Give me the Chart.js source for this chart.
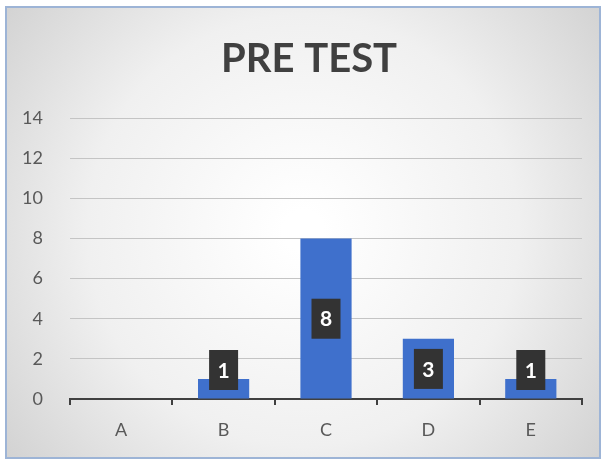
<!DOCTYPE html>
<html>
<head>
<meta charset="utf-8">
<script src="https://cdn.jsdelivr.net/npm/chart.js@4"></script>
<style>
  html, body { margin: 0; padding: 0; background: #fff; }
  #wrap { width: 606px; height: 461px; }
</style>
</head>
<body>
<div id="wrap"><canvas id="chart" width="606" height="461"></canvas></div>
<script>
const categories = ['A', 'B', 'C', 'D', 'E'];
const counts = [0, 1, 8, 3, 1];
const yTicks = [0, 2, 4, 6, 8, 10, 12, 14];
const chartTitle = 'PRE TEST';

// gradient background + light blue frame + title
const backdrop = {
    id: 'backdrop',
    beforeDraw(chart) {
        const ctx = chart.ctx;
        const w = chart.width, h = chart.height;
        ctx.save();
        const g = ctx.createRadialGradient(w / 2, h / 2, 20, w / 2, h / 2, w * 0.62);
        g.addColorStop(0, '#ffffff');
        g.addColorStop(0.55, '#f0f0f0');
        g.addColorStop(1, '#d2d2d2');
        ctx.fillStyle = g;
        ctx.fillRect(6, 7, 594, 451);
        ctx.strokeStyle = '#9db4d6';
        ctx.lineWidth = 2;
        ctx.strokeRect(6, 7, 594, 451);
        ctx.fillStyle = '#404040';
        ctx.font = 'bold 40px Lato, "Open Sans", sans-serif';
        ctx.textAlign = 'center';
        ctx.textBaseline = 'alphabetic';
        ctx.fillText(chartTitle, w / 2 + 6, 72);
        ctx.restore();
    }
};

// dark boxed value labels
const valueBoxes = {
    id: 'valueBoxes',
    afterDatasetsDraw(chart) {
        const ctx = chart.ctx;
        const meta = chart.getDatasetMeta(0);
        const yZero = chart.scales.y.getPixelForValue(0);
        ctx.save();
        meta.data.forEach((bar, i) => {
            const v = counts[i];
            if (!v) return;
            const boxW = 29, boxH = 40;
            let cy = (bar.y + yZero) / 2;
            if (cy + boxH / 2 > yZero - 9) cy = yZero - 9 - boxH / 2;
            ctx.fillStyle = '#333333';
            ctx.fillRect(bar.x - boxW / 2, cy - boxH / 2, boxW, boxH);
            ctx.fillStyle = '#ffffff';
            ctx.font = 'bold 21px Lato, "Open Sans", sans-serif';
            ctx.textAlign = 'center';
            ctx.textBaseline = 'middle';
            ctx.fillText(String(v), bar.x, cy + 1);
        });
        ctx.restore();
    }
};

new Chart(document.getElementById('chart'), {
    type: 'bar',
    data: {
        labels: categories,
        datasets: [{
            data: counts,
            backgroundColor: '#3f70cc',
            categoryPercentage: 1,
            barPercentage: 0.5
        }]
    },
    options: {
        responsive: false,
        animation: false,
        layout: { padding: { top: 118, right: 24, left: 0, bottom: 0 } },
        plugins: {
            legend: { display: false },
            title: { display: false },
            tooltip: { enabled: false }
        },
        scales: {
            x: {
                offset: true,
                grid: {
                    offset: true,
                    drawOnChartArea: false,
                    drawTicks: true,
                    tickLength: 6,
                    color: '#404040',
                    lineWidth: 2
                },
                border: { display: true, color: '#404040', width: 2 },
                ticks: { color: '#595959', font: { size: 18, family: 'Lato, "Open Sans", sans-serif' }, padding: 14 },
                afterFit(scale) { scale.height = 62; }
            },
            y: {
                min: 0,
                max: 14,
                afterBuildTicks(scale) { scale.ticks = yTicks.map(v => ({ value: v })); },
                grid: { color: '#c4c4c4', lineWidth: 1, drawTicks: false },
                border: { display: false },
                ticks: { color: '#595959', font: { size: 18, family: 'Lato, "Open Sans", sans-serif' }, padding: 27 },
                afterFit(scale) { scale.width = 70; }
            }
        }
    },
    plugins: [backdrop, valueBoxes]
});
</script>
</body>
</html>
